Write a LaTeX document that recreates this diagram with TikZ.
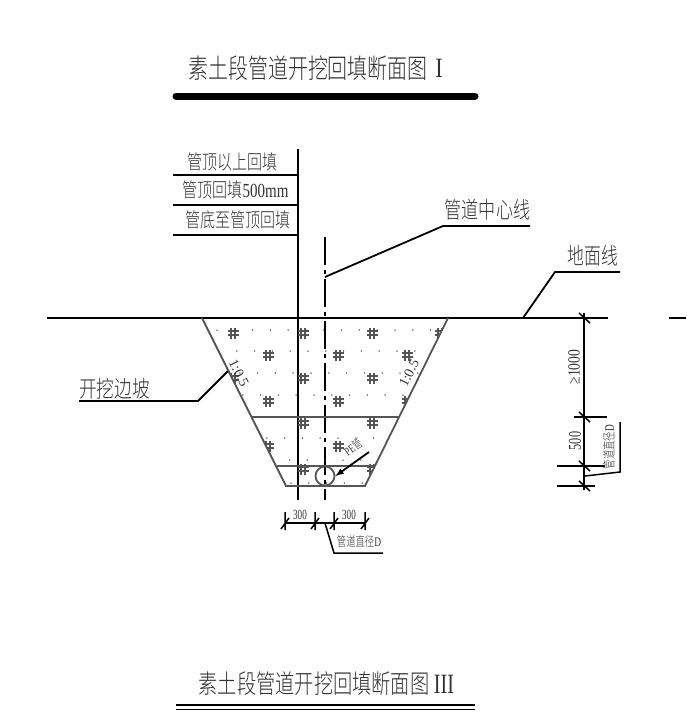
\documentclass[tikz,border=0pt]{standalone}
\usepackage{fontspec}
\usepackage{tikz}
\usetikzlibrary{arrows, positioning}
\newfontfamily\cjk{Noto Sans CJK SC Light}
\newfontfamily\latn{Liberation Serif}
\newcommand{\cadsize}[1]{\cjk\fontsize{#1}{#1}\selectfont}
\newcommand{\latsize}[1]{\latn\fontsize{#1}{#1}\selectfont}
\definecolor{ink}{HTML}{333333}
\definecolor{hatch}{HTML}{555555}
\tikzset{
	lab/.style={inner sep=0pt, transform shape, text=ink},
	heavy/.style={line width=1.8pt, black},
	band/.style={line width=1.8pt, hatch},
	tick/.style={line width=1.5pt, black},
	hashmark/.pic={
		\draw[line width=2pt, hatch] (-5.5,-2.3) -- (5.5,-2.3) (-5.5,2.3) -- (5.5,2.3) (-2.4,-5.5) -- (-2.4,5.5) (2.4,-5.5) -- (2.4,5.5);
	},
}
\begin{document}
\begin{tikzpicture}[x=1pt, y=-1pt]
\useasboundingbox (0,0) rectangle (686,723);
\node[lab, xscale=.74] (title1) at (308,68) {\cadsize{27}素土段管道开挖回填断面图};
\node[lab, xscale=.8] (title1num) at (439,68) {\latsize{28}I};
\coordinate (bar1l) at (176,96);
\coordinate (bar1r) at (475,96);
\draw[line width=7pt, line cap=round] (bar1l) -- (bar1r);
\node[lab, xscale=.74] (title3) at (314,684) {\cadsize{26}素土段管道开挖回填断面图};
\node[lab, xscale=.72] (title3num) at (444,684) {\latsize{28}III};
\coordinate (bar3a) at (176,705);
\coordinate (bar3b) at (475,705);
\coordinate (bar3c) at (176,709.5);
\coordinate (bar3d) at (475,709.5);
\draw[line width=2pt] (bar3a) -- (bar3b);
\draw[line width=1.5pt] (bar3c) -- (bar3d);

\coordinate (wallt) at (298,149);
\coordinate (wallb) at (298,500);
\coordinate (axist) at (325,237);
\coordinate (axisb) at (325,500);
\draw[heavy] (wallt) -- (wallb);
\draw[heavy, dash pattern=on 28pt off 5pt on 4pt off 5pt] (axist) -- (axisb);
\node[lab, xscale=.75] (row1) at (232,162) {\cadsize{20}管顶以上回填};
\node[lab, xscale=.75] (row2) at (235.5,190) {\cadsize{20}管顶回填{\latn 500mm}};
\node[lab, xscale=.75] (row3) at (238,220) {\cadsize{20}管底至管顶回填};
\foreach \y in {175,205,235}
	\draw[heavy] (173,\y) -- (298,\y);

\coordinate (grounda) at (47,318);
\coordinate (groundb) at (608,318);
\coordinate (groundc) at (669,318);
\coordinate (groundd) at (686,318);
\draw[heavy] (grounda) -- (groundb) (groundc) -- (groundd);

\coordinate (pitl) at (202,318);
\coordinate (pitr) at (448,318);
\coordinate (pitbl) at (286,486);
\coordinate (pitbr) at (365,486);
\begin{scope}
\clip (pitl) -- (pitbl) -- (pitbr) -- (pitr) -- cycle;
\foreach \x/\y in {233/333,303/333,372/333,440/333,268/355,338/355,407/355,233/378,303/378,372/378,268/401,338/401,407/401,303/423,372/423,268/446,338/446,303/469,372/469}
	\pic at (\x,\y) {hashmark};
\foreach \y/\s in {330/217,351/219,373/222,395/225,438/249,460/254,483/291}
	\foreach \k in {0,...,12}
		\fill[ink] ({\s+17.8*\k},\y) circle (.75pt);
\end{scope}
\draw[band] (pitl) -- (pitbl) -- (pitbr) -- (pitr);
\draw[band] (252,417) -- (399,417) (277,466) -- (375,466);
\node[circle, draw=hatch, line width=1.8pt, minimum size=19pt, inner sep=0pt] (pipe) at (325,476) {};

\coordinate (peleader) at (369,452);
\draw[heavy, -latex] (peleader) -- (pipe.east);
\node[lab, rotate=35, xscale=.72] (petext) at (353,447) {\cadsize{12}{\latn PE}管};
\node[lab, rotate=-63] (slopel) at (239,373) {\latsize{14}1:0.5};
\node[lab, rotate=63] (sloper) at (409,373) {\latsize{14}1:0.5};

\coordinate (axisn) at (325,277);
\coordinate (axism) at (443,226);
\coordinate (axise) at (530,226);
\draw[heavy] (axisn) -- (axism) -- (axise);
\node[lab, xscale=.74] (axistext) at (487.5,210) {\cadsize{23}管道中心线};
\coordinate (groundn) at (523,318);
\coordinate (groundm) at (555,272);
\coordinate (grounde) at (620,272);
\draw[heavy] (groundn) -- (groundm) -- (grounde);
\node[lab, xscale=.73] (groundtext) at (593,256) {\cadsize{23}地面线};
\coordinate (sloped) at (228,371);
\coordinate (slopem) at (198,401);
\coordinate (slopee) at (79,401);
\draw[heavy] (sloped) -- (slopem) -- (slopee);
\node[lab, xscale=.77] (slopetext) at (114.5,389) {\cadsize{23}开挖边坡};

\coordinate (dima) at (285,523);
\coordinate (dimd) at (365,523);
\draw[line width=2.2pt] (dima) -- (dimd);
\foreach \x in {285,315,334,365}
	\draw[tick] (\x,512) -- (\x,530) (\x-4,529) -- (\x+4,518);
\node[lab, xscale=.65] (dim300a) at (300,515) {\latsize{14}300};
\node[lab, xscale=.65] (dim300b) at (349,515) {\latsize{14}300};
\coordinate (pipen) at (325,523);
\coordinate (pipem) at (334,553);
\coordinate (pipee) at (383,553);
\draw[tick] (pipen) -- (pipem) -- (pipee);
\node[lab, xscale=.72] (pipetext) at (359,542) {\cadsize{13}管道直径{\latn D}};

\coordinate (deptht) at (584,313);
\coordinate (depthb) at (584,490);
\draw[heavy] (deptht) -- (depthb);
\draw[heavy] (574,417) -- (607,417) (557,466) -- (605,466) (557,486) -- (595,486);
\foreach \y in {318,417,466,486}
	\draw[tick] (579,\y-5) -- (590,\y+5);
\node[lab, rotate=90, xscale=.8] (depth1000) at (574,367) {\latsize{17}≥1000};
\node[lab, rotate=90, xscale=.68] (depth500) at (575,441) {\latsize{18}500};
\coordinate (diam) at (585,476);
\coordinate (diamm) at (620,472);
\coordinate (diame) at (620,422);
\draw[tick] (diam) -- (diamm) -- (diame);
\node[lab, rotate=90, xscale=.72] (diamtext) at (609,447) {\cadsize{13}管道直径{\latn D}};
\end{tikzpicture}
\end{document}
